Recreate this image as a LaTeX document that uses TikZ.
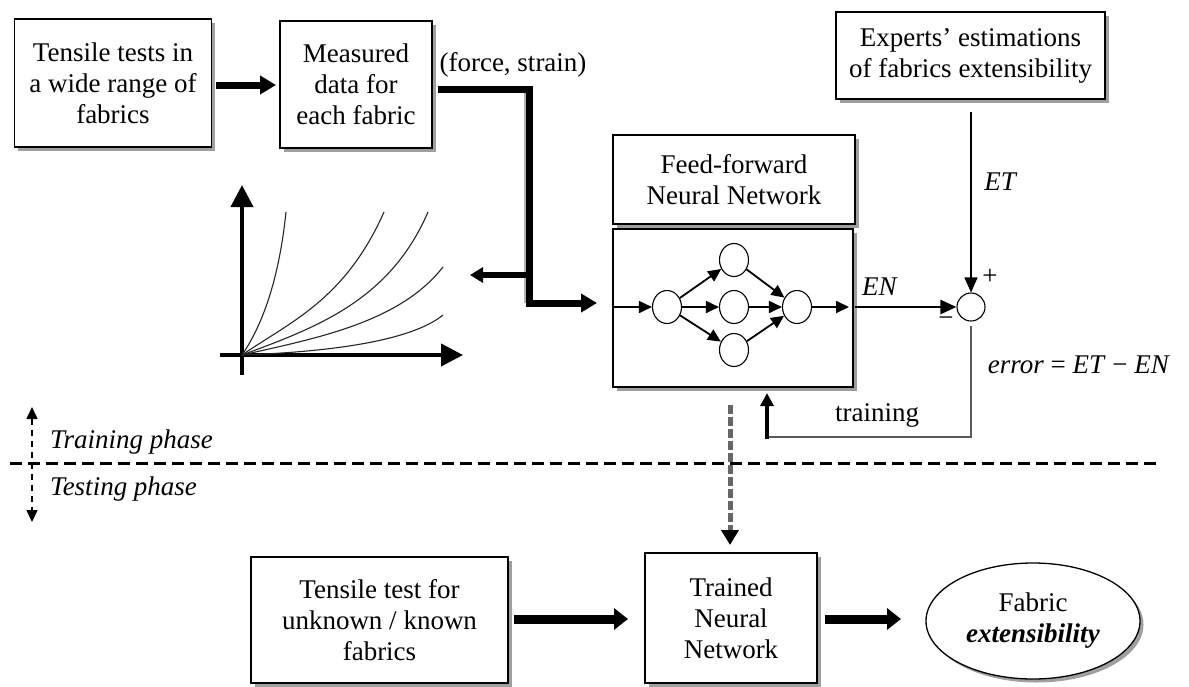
\documentclass[tikz,border=0pt]{standalone}
\usepackage{fontspec}
\setmainfont{Liberation Serif}
\usetikzlibrary{arrows.meta,shapes.geometric,shadows}
\newcommand\bodysize{\fontsize{27}{31}\selectfont}
\begin{document}
\begin{tikzpicture}[x=1pt,y=-1pt,
  every node/.style={font=\bodysize},
  shad/.style={drop shadow={shadow xshift=3.5pt, shadow yshift=-3.5pt, fill=gray!75, opacity=1}},
  box/.style={draw, line width=1.3pt, fill=white, align=center, inner sep=0pt, shad},
  neuron/.style={draw, ellipse, line width=1.1pt, minimum width=29pt, minimum height=33pt, inner sep=0pt},
  fatA/.style={line width=7pt, -{Triangle[length=16pt,width=18pt]}},
  fatB/.style={line width=9pt, -{Triangle[length=14pt,width=21pt]}},
  nnarrow/.style={line width=1.8pt, -{Triangle[length=13pt,width=12pt]}},
  curve/.style={line width=1.1pt, black!85},
  lbl/.style={inner sep=0pt}
]
\useasboundingbox (0,0) rectangle (1189,686);
\fill[white] (0,0) rectangle (1189,686);

% --- training phase: data acquisition ---
\node[box, minimum width=197pt, minimum height=128pt] (tests) at (113,83)
  {Tensile tests in\\a wide range of\\fabrics};
\node[box, minimum width=152pt, minimum height=127pt] (meas) at (356,84.5)
  {Measured\\data for\\each fabric};
\draw[fatA] (tests.east |- 0,85) ++(4,0) coordinate (a1s) -- (276,85) coordinate (a1e);
\node[lbl] (fslbl) at (513,65) {(force, strain)};

% routing of the measured data
\coordinate (d0) at (438,89);
\coordinate (d1) at (529,89);
\coordinate (d2) at (529,303);
\coordinate (d3) at (597,303);
\coordinate (b0) at (529,275);
\coordinate (b1) at (470,275);
\draw[line width=7pt, gray!60] ([xshift=-2pt]d1) -- ([xshift=-2pt]d2);
\draw[fatA] (d0) -- (d1) -- (d2) -- (d3);
\draw[line width=5.5pt, -{Triangle[length=13pt,width=15pt]}] (b0) -- (b1);

% force-strain curves
\coordinate (o) at (242,355);
\coordinate (yb) at (242,375);
\coordinate (yt) at (242,185);
\coordinate (xl) at (220,355);
\coordinate (xr) at (463,355);
\draw[line width=4pt, -{Triangle[length=22pt,width=22pt]}] (yb) -- (yt);
\draw[line width=4pt, -{Triangle[length=22pt,width=22pt]}] (xl) -- (xr);
\draw[curve] (o) .. controls (266,320) and (280,270) .. (286,212);
\draw[curve] (o) .. controls (290,322) and (345,300) .. (384,212);
\draw[curve] (o) .. controls (318,327) and (390,300) .. (428,212);
\draw[curve] (o) .. controls (318,338) and (400,322) .. (443,267);
\draw[curve] (o) .. controls (325,352) and (410,342) .. (443,315);

% --- neural network ---
\node[box, minimum width=242pt, minimum height=89pt] (nntitle) at (734,179.5)
  {Feed-forward\\Neural Network};
\node[box, minimum width=240pt, minimum height=158pt] (nnbody) at (733,308) {};
\node[neuron] (in) at (667,307) {};
\node[neuron] (h1) at (734,260) {};
\node[neuron] (h2) at (734,307) {};
\node[neuron] (h3) at (734,350) {};
\node[neuron] (out) at (797,307) {};
\coordinate (nnin) at (613,307);
\coordinate (nnout) at (849,307);
\draw[nnarrow] (nnin) -- (in);
\foreach \h in {h1,h2,h3} {
  \draw[nnarrow] (in) -- (\h);
  \draw[nnarrow] (\h) -- (out);
}
\draw[nnarrow] (out) -- (nnout);

% --- expert targets and error ---
\node[box, minimum width=269pt, minimum height=87pt] (experts) at (970.5,55.5)
  {Experts’ estimations\\of fabrics extensibility};
\node[draw, circle, line width=1.1pt, minimum size=28pt, inner sep=0pt] (sum) at (971,307) {};
\coordinate (etstart) at (971,112);
\draw[line width=1.5pt, -{Triangle[length=15pt,width=13pt]}] (etstart) -- (sum.north);
\node[lbl] (etlbl) at (1001,182) {\textit{ET}};
\draw[line width=2.6pt, -{Triangle[length=16pt,width=14pt]}] (nnbody.east |- sum) ++(1,0) -- (sum.west);
\node[lbl] (enlbl) at (880,287) {\textit{EN}};
\node[lbl] (plus) at (990,277) {+};
\node[lbl] (minus) at (946,322) {−};
\node[lbl] (errlbl) at (1079,365) {\textit{error} = \textit{ET} − \textit{EN}};

% feedback for training
\coordinate (f0) at (971,326);
\coordinate (f1) at (971,437);
\coordinate (f2) at (767,437);
\coordinate (f3) at (767,393);
\draw[line width=1.6pt, black!65] (f0) -- (f1) -- (f2);
\draw[line width=4pt, -{Triangle[length=13pt,width=13pt]}] (f2) ++(0,1.5) -- (f3);
\node[lbl] (trlbl) at (877,415) {training};

% --- phase separation ---
\coordinate (sepL) at (10,463);
\coordinate (sepR) at (1156,463);
\draw[line width=3pt, dash pattern=on 12pt off 6pt] (sepL) -- (sepR);
\coordinate (ph0) at (32,407);
\coordinate (ph1) at (32,522);
\draw[line width=1.6pt, dash pattern=on 6pt off 5pt,
  {Triangle[length=12pt,width=11pt]}-{Triangle[length=12pt,width=11pt]}] (ph0) -- (ph1);
\node[lbl, anchor=west] (trph) at (50,442) {\textit{Training phase}};
\node[lbl, anchor=west] (teph) at (50,489) {\textit{Testing phase}};

% --- testing phase ---
\coordinate (tr0) at (730,405);
\draw[line width=5pt, black!60, dash pattern=on 9pt off 3pt,
  -{Triangle[length=15pt,width=17pt,color=black]}] (tr0) -- (730,545) coordinate (tr1);
\node[box, minimum width=257pt, minimum height=126pt] (newtest) at (379.5,620)
  {Tensile test for\\unknown / known\\fabrics};
\node[box, minimum width=172pt, minimum height=130pt] (trained) at (731,618)
  {Trained\\Neural\\Network};
\node[draw, ellipse, line width=1.3pt, fill=white, shad, minimum width=214pt, minimum height=116pt,
  align=center, inner sep=0pt] (result) at (1033,621) {Fabric\\\textbf{\textit{extensibility}}};
\draw[fatB] (newtest.east |- 0,619) ++(5,0) -- (628,619);
\draw[fatB] (trained.east |- 0,619) ++(7,0) -- (901,619);
\end{tikzpicture}
\end{document}
